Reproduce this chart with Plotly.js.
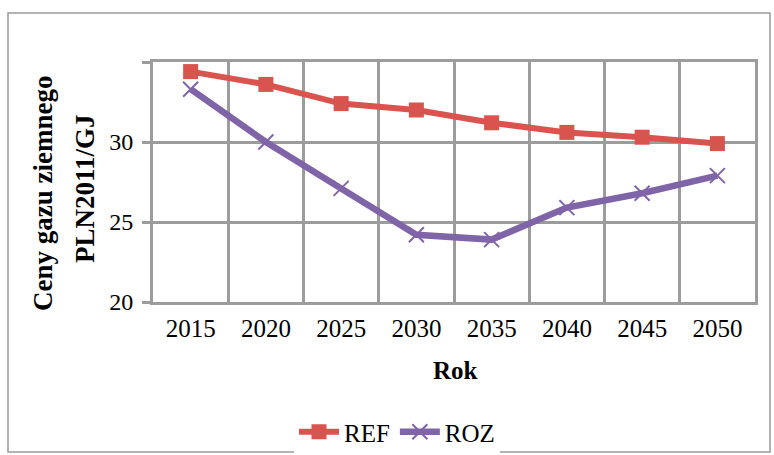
<!DOCTYPE html>
<html>
<head>
<meta charset="utf-8">
<script src="https://cdn.plot.ly/plotly-3.0.1.min.js"></script>
<style>html,body{margin:0;padding:0;background:#fff;}#chart{width:774px;height:455px;}</style>
</head>
<body>
<div id="chart"></div>
<script>
const years = ['2015','2020','2025','2030','2035','2040','2045','2050'];
const refValues = [34.4, 33.6, 32.4, 32.0, 31.2, 30.6, 30.3, 29.9];
const rozValues = [33.3, 30.0, 27.1, 24.2, 23.9, 25.9, 26.8, 27.9];
const yTickVals = [20, 25, 30, 35];
const yTickText = ['20', '25', '30', ''];
const yTitleLines = ['Ceny gazu ziemnego', 'PLN2011/GJ'];
const xTitle = 'Rok';

const font = 'Liberation Serif, Times New Roman, serif';
const red = '#D9534F', purple = '#8064A8', grid = '#9C9C9C';
const traces = [
  {x: years, y: refValues, name: 'REF', type: 'scatter', mode: 'lines+markers',
   line: {color: red, width: 6}, marker: {symbol: 'square', size: 15, color: red}},
  {x: years, y: rozValues, name: 'ROZ', type: 'scatter', mode: 'lines+markers',
   line: {color: purple, width: 6.5}, marker: {symbol: 'x-thin', size: 15, line: {color: purple, width: 2}}}
];
const px = v => (v - 153) / 602;
const py = v => (302 - v) / 240;
const layout = {
  width: 774, height: 455,
  margin: {l: 153, r: 19, t: 62, b: 153},
  paper_bgcolor: '#fff', plot_bgcolor: '#fff',
  font: {family: font, size: 24, color: '#000'},
  showlegend: true,
  legend: {orientation: 'h', xref: 'paper', yref: 'container', x: px(397), xanchor: 'center', y: 1 - 432 / 455, yanchor: 'middle',
           font: {size: 25}, itemwidth: 40},
  xaxis: {type: 'category', range: [-0.5, 7.5], tickson: 'boundaries', showgrid: true, gridcolor: grid, gridwidth: 3,
          ticks: '', showline: true, mirror: true, linecolor: grid, linewidth: 3, zeroline: false, automargin: false,
          tickfont: {size: 25}, ticklabelstandoff: 2},
  yaxis: {range: [20, 35], tickvals: yTickVals, ticktext: yTickText, showgrid: true, gridcolor: grid, gridwidth: 3,
          ticks: 'outside', ticklen: 8, tickwidth: 3, tickcolor: grid, showline: true, mirror: true, linecolor: grid, linewidth: 3,
          zeroline: false, automargin: false, tickfont: {size: 24}, ticklabelstandoff: 4},
  annotations: [
    {text: '<b>' + yTitleLines[0] + '</b>', xref: 'paper', yref: 'paper', x: px(43), y: py(194), textangle: -90,
     showarrow: false, xanchor: 'center', yanchor: 'middle', font: {size: 27}},
    {text: '<b>' + yTitleLines[1] + '</b>', xref: 'paper', yref: 'paper', x: px(85), y: py(189), textangle: -90,
     showarrow: false, xanchor: 'center', yanchor: 'middle', font: {size: 27}},
    {text: '<b>' + xTitle + '</b>', xref: 'paper', yref: 'paper', x: px(455), y: py(370),
     showarrow: false, xanchor: 'center', yanchor: 'middle', font: {size: 25}}
  ],
  shapes: [
    {type: 'rect', xref: 'paper', yref: 'paper', x0: px(8), x1: px(770), y0: py(452), y1: py(13),
     line: {color: '#999', width: 1.5}, fillcolor: 'rgba(0,0,0,0)', layer: 'below'}
  ]
};
Plotly.newPlot('chart', traces, layout, {displayModeBar: false, staticPlot: true});
</script>
</body>
</html>
